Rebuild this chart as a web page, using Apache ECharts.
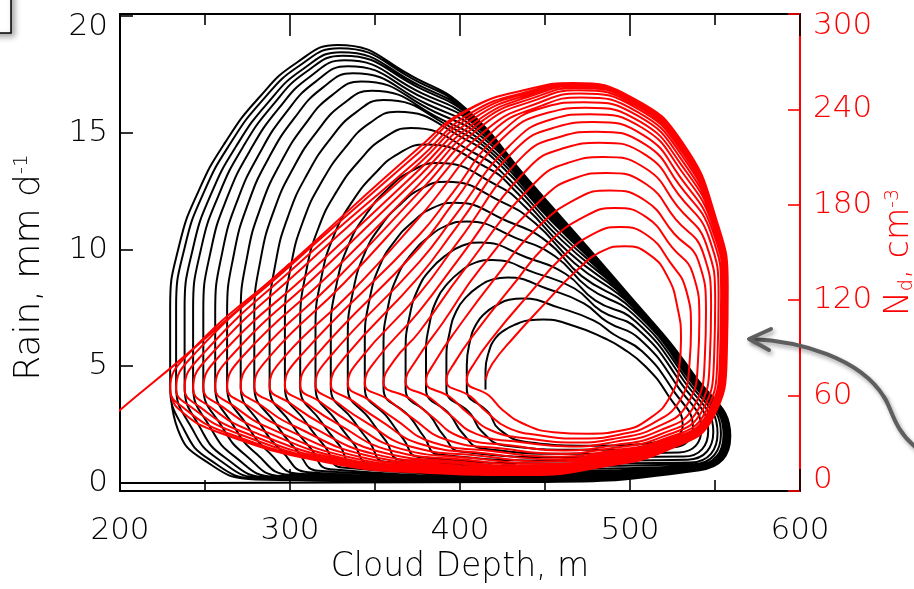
<!DOCTYPE html>
<html style="height: 100%">
<head>
    <meta charset="utf-8">
    <script type="text/javascript" src="https://cdn.jsdelivr.net/npm/echarts@6.0.0/dist/echarts.min.js"></script>
</head>
<body style="height: 100%; margin: 0; background: #fff">
<div id="container" style="height: 589px; width: 914px; position: absolute; top: 0; left: 0;"></div>
<script type="text/javascript">
    // axis ticks
    var depthTicks = [200, 300, 400, 500, 600];
    var rainTicks = [0, 5, 10, 15, 20];
    var ndTicks = [0, 60, 120, 180, 240, 300];

    // rain (mm/d) vs cloud depth (m): one loop per row, inner -> outer, x,y pairs
    var rainLoops = [
        [415,4.0, 415,4.8, 416.9,5.6, 420.8,6.2, 426.2,6.55, 433,6.8, 440.7,6.97, 449,7.0, 468,6.7, 485,6.2, 495,5.8, 509,5.0, 522,3.8, 531,2.5, 521,1.8, 478,1.6, 440,1.75, 423,2.3, 417,3.0],
        [404,4.01, 404,5.04, 405.8,6.05, 409.6,6.81, 414.9,7.28, 421.5,7.61, 428.9,7.85, 437,7.9, 458.2,7.51, 478.8,6.95, 490.8,6.35, 507.1,5.64, 525.2,3.99, 537,2.39, 525.3,1.53, 472.5,1.42, 426.1,1.61, 412.7,2.22, 406.2,2.96],
        [392,4.02, 392,5.27, 394,6.48, 398.1,7.4, 403.9,7.98, 411.1,8.42, 419.2,8.72, 428,8.8, 451.3,8.32, 472.6,7.7, 486.6,6.9, 505.5,6.18, 527.9,4.15, 542,2.3, 528.9,1.31, 467.8,1.25, 413.1,1.48, 401.4,2.14, 394.3,2.91],
        [380,4.04, 380,5.46, 382.1,6.83, 386.6,7.89, 392.9,8.56, 400.7,9.08, 409.4,9.45, 419,9.55, 444.1,9.0, 467.4,8.33, 483.1,7.36, 504.2,6.61, 530,4.28, 546,2.23, 531.7,1.13, 463.2,1.1, 400.2,1.35, 390.2,2.05, 382.5,2.87],
        [368,4.05, 368,5.65, 370.4,7.17, 375.5,8.34, 382.5,9.13, 391.3,9.73, 401.2,10.16, 412,10.3, 438.9,9.67, 462.2,8.95, 479.5,7.82, 503.2,6.93, 531.6,4.38, 549,2.18, 533.9,1.0, 458.6,0.96, 387.4,1.22, 378.9,1.97, 370.6,2.82],
        [355,4.06, 355,5.87, 357.7,7.56, 363.3,8.88, 371.2,9.78, 381,10.5, 392,11.02, 404,11.2, 433,10.49, 456.1,9.7, 475.4,8.37, 502.4,7.2, 533,4.46, 551.5,2.13, 535.6,0.88, 454.9,0.84, 375.7,1.11, 366.7,1.88, 357.8,2.77],
        [344,4.08, 344,6.06, 346.9,7.9, 353,9.34, 361.5,10.35, 372.1,11.18, 384,11.78, 397,12.0, 427.9,11.21, 450.6,10.37, 471.6,8.86, 501.8,7.41, 534.1,4.52, 553.5,2.1, 537.1,0.8, 451.2,0.72, 364.8,1.0, 356.4,1.8, 347,2.73],
        [334,4.09, 334,6.27, 337.2,8.25, 343.9,9.83, 353.1,10.98, 364.7,11.92, 377.8,12.63, 392,12.9, 425.1,12.02, 444.3,11.12, 467.4,9.41, 501.3,7.57, 534.9,4.57, 555,2.07, 538.1,0.73, 448.5,0.62, 355.8,0.91, 347,1.73, 337.1,2.69],
        [324,4.1, 324,6.44, 327.5,8.55, 334.7,10.24, 344.8,11.51, 357.4,12.58, 371.6,13.37, 387,13.7, 422,12.74, 438.8,11.79, 463.6,9.9, 501,7.68, 535.4,4.6, 556,2.05, 538.9,0.68, 445.7,0.52, 346.9,0.82, 337.7,1.66, 327.2,2.66],
        [315,4.11, 315,6.61, 318.6,8.85, 326.1,10.65, 336.5,12.04, 349.5,13.22, 364.1,14.12, 380,14.5, 416.9,13.46, 433.3,12.45, 459.9,10.39, 500.7,7.76, 535.8,4.63, 556.8,2.04, 539.4,0.65, 442.9,0.43, 338.4,0.73, 329.2,1.6, 318.4,2.62],
        [306,4.12, 306,6.77, 309.6,9.09, 317.1,10.99, 327.5,12.49, 340.5,13.78, 355.1,14.77, 371,15.2, 409.5,14.09, 428.5,13.03, 456.7,10.82, 500.5,7.83, 536.1,4.65, 557.4,2.03, 539.9,0.62, 440.7,0.35, 330.7,0.66, 320.8,1.54, 309.5,2.59],
        [297,4.13, 297,6.92, 300.6,9.32, 308.2,11.31, 318.8,12.92, 332,14.32, 346.8,15.41, 363,15.9, 403.2,14.72, 423.7,13.62, 453.4,11.25, 500.4,7.87, 536.4,4.66, 557.8,2.02, 540.1,0.6, 438.7,0.28, 323.5,0.59, 312.3,1.47, 300.6,2.55],
        [288,4.14, 288,7.02, 291.7,9.49, 299.4,11.53, 310.1,13.22, 323.5,14.72, 338.6,15.86, 355,16.4, 396.4,15.17, 420.3,14.03, 451.1,11.55, 500.3,7.9, 536.5,4.67, 558.1,2.02, 540.4,0.59, 437,0.22, 316.8,0.52, 303.9,1.41, 291.7,2.52],
        [279,4.15, 279,7.11, 282.8,9.61, 290.7,11.7, 301.8,13.47, 315.6,15.03, 331.1,16.23, 348,16.8, 390.3,15.53, 417.5,14.36, 449.2,11.8, 500.2,7.94, 536.7,4.68, 558.4,2.01, 540.6,0.58, 435.5,0.17, 310.6,0.46, 295.4,1.35, 282.8,2.49],
        [271,4.16, 271,7.19, 274.9,9.74, 283.1,11.88, 294.4,13.7, 308.6,15.34, 324.6,16.6, 342,17.2, 385.3,15.89, 414.8,14.7, 447.3,12.04, 500.1,7.96, 536.8,4.69, 558.6,2.01, 540.7,0.57, 434.2,0.13, 305,0.4, 287.9,1.29, 274.9,2.46],
        [263,4.16, 263,7.25, 267.1,9.84, 275.6,12.02, 287.4,13.91, 302.2,15.59, 318.9,16.91, 337,17.55, 381.1,16.21, 412.3,14.99, 445.7,12.26, 500.1,7.98, 536.9,4.69, 558.8,2.0, 540.9,0.56, 433.1,0.1, 299.7,0.35, 280.4,1.24, 267,2.43],
        [256,4.17, 256,7.32, 260.3,9.93, 269.3,12.15, 281.7,14.07, 297.3,15.83, 314.9,17.18, 334,17.85, 378.8,16.48, 410.2,15.25, 444.2,12.45, 500,7.99, 536.9,4.7, 558.9,2.0, 540.9,0.55, 432.2,0.08, 295,0.3, 273.9,1.19, 260.1,2.4],
        [249,4.18, 249,7.37, 253.6,10.01, 263.1,12.24, 276.4,14.23, 293,16.01, 311.7,17.4, 332,18.1, 377.4,16.7, 408.5,15.45, 443.1,12.6, 500,8.0, 537,4.7, 559,2.0, 541,0.55, 431.7,0.07, 291.2,0.26, 267.3,1.14, 253.2,2.37],
        [243,4.19, 243,7.42, 247.8,10.07, 258,12.32, 272,14.35, 289.6,16.16, 309.4,17.6, 331,18.3, 376.9,16.89, 407.2,15.62, 442.1,12.72, 500,8.0, 537,4.7, 559,2.0, 541,0.55, 431.1,0.06, 287.7,0.23, 261.7,1.09, 247.3,2.35],
        [238,4.19, 238,7.44, 243.1,10.11, 253.6,12.38, 268.4,14.43, 286.8,16.27, 307.5,17.72, 330,18.45, 376.3,17.02, 406.1,15.75, 441.4,12.81, 500,8.0, 537,4.7, 559,2.0, 541,0.55, 430.7,0.05, 284.8,0.2, 257,1.06, 242.4,2.33],
        [233,4.2, 233,7.47, 238.3,10.16, 249.3,12.45, 264.7,14.52, 283.9,16.4, 305.5,17.87, 329,18.62, 375.7,17.17, 405,15.88, 440.7,12.91, 500,8.0, 537,4.7, 559,2.0, 541,0.55, 430.3,0.04, 282,0.17, 252.3,1.02, 237.5,2.31],
        [229.5,4.2, 229.5,7.5, 234.9,10.2, 246.2,12.5, 262,14.6, 281.7,16.5, 303.9,18.0, 328,18.76, 375,17.3, 404,16.0, 440,13.0, 500,8.0, 537,4.7, 559,2.0, 541,0.55, 430,0.04, 280,0.15, 249,1.0, 234,2.3]
    ];

    // droplet number Nd (cm-3) vs cloud depth (m), same loops
    var ndLoops = [
        [415,70, 419,80, 432,97, 450,118, 468,138, 484,151, 497,154, 511,149, 522,135, 528,115, 530,95, 529,78, 524,60, 512,46, 495,38, 475,36, 455,37, 438,42, 425,51, 417,60],
        [404,69.6, 408.4,80.4, 421,99, 440,123, 460,147, 479,162, 494,166, 510.5,160.5, 523.5,143.9, 532.9,126.8, 535.9,102.1, 535,80.1, 529.4,57.1, 513.7,42.7, 493.5,35.4, 471.1,33, 448.5,34.8, 428,39.9, 415.2,50.1, 406.1,59.5],
        [392,69.3, 396.9,80.9, 410,101, 430,128, 452,156, 474,173, 491,178, 510,171.9, 524.8,153.2, 537,136.6, 540.8,108, 540,81.9, 533.8,54.7, 515,39.9, 492.2,33.1, 467.8,30.5, 442.4,32.7, 418.8,37.9, 404.4,49.2, 394.3,59],
        [380,68.9, 385.4,81.4, 399,103, 420,133, 444,164, 469,184, 488,189, 509.3,182.4, 526,161.8, 540.3,144.5, 544.7,112.7, 544,83.4, 537.4,52.8, 516.2,37.5, 491,30.9, 464.5,28, 436.3,30.7, 409.5,35.9, 393.7,48.3, 382.5,58.5],
        [368,68.5, 373.9,81.8, 390,106, 412,140, 448.5,184, 468.3,197, 486,200, 509.6,192.9, 526.9,170.8, 542.8,150.4, 547.7,116.2, 547,84.4, 540.1,51.3, 517.2,35.4, 489.7,28.7, 461.3,25.5, 430.3,28.6, 400.3,34, 382.9,47.3, 370.6,58],
        [355,68.1, 361.4,82.3, 376,100, 401,137, 444.2,194, 465.3,207, 484,210, 509.7,202.5, 527.8,179.1, 544.8,155.3, 550.1,119.2, 549.5,85.3, 542.3,50.1, 518.1,33.7, 488.7,26.9, 458.6,23.5, 424.8,26.7, 392,32.2, 371.3,46.3, 357.8,57.4],
        [344,67.7, 350.9,82.7, 376,113, 400,147, 440.2,203, 462.3,216, 482,219, 509.6,211.1, 528.5,186.6, 546.5,159.2, 552.1,121.5, 551.5,86, 544.1,49.1, 518.8,32.2, 487.7,25.2, 456,21.5, 419.7,25, 384.1,30.5, 361.5,45.4, 347,56.9],
        [334,67.4, 341.3,83.1, 376,124, 399,157, 436.4,210, 459.6,223, 480,226, 509.1,217.8, 529,192.5, 547.7,162.1, 553.6,123.3, 553,86.6, 545.4,48.4, 519.4,31.1, 487,23.9, 454.1,20, 415.5,23.6, 377.8,29.2, 352.5,44.7, 337.1,56.5],
        [324,67.1, 331.7,83.5, 376,135, 398,166, 432.6,214.8, 457,229, 478,232, 508.3,223.5, 529.4,197.6, 548.5,164.1, 554.6,124.5, 554,86.9, 546.3,47.9, 519.8,30.2, 486.3,22.5, 452.1,18.5, 411.3,22.2, 371.4,27.8, 343.6,43.9, 327.2,56.1],
        [315,66.8, 323,83.8, 376,144, 397,173, 429,217, 454.5,234, 476,237, 507.4,228.3, 529.8,201.9, 549.2,165.7, 555.3,125.4, 554.8,87.2, 547,47.6, 520.3,29.3, 485.5,21.2, 450.1,17, 407.4,20.8, 365.3,26.5, 335.5,43.2, 318.3,55.7],
        [306,66.5, 314.4,84.1, 376,153, 396,181, 425.3,222, 452.1,238, 474,241, 506.2,232.1, 530.1,205.3, 549.7,166.9, 555.9,126.1, 555.4,87.4, 547.6,47.3, 520.6,28.6, 484.9,20.1, 448.6,15.8, 403.8,19.6, 359.8,25.3, 327.5,42.5, 309.5,55.3],
        [297,66.2, 305.8,84.5, 376,161, 396,188, 422.2,223.5, 450.2,241.5, 472.5,244.5, 505.5,235.4, 530.3,208.4, 550,167.6, 556.3,126.6, 555.8,87.6, 547.9,47.1, 520.9,28.1, 484.4,19.2, 447.2,14.7, 400.4,18.4, 354.6,24.2, 319.4,41.8, 300.6,54.9],
        [288,65.9, 297.1,84.8, 336,125, 376,172, 419,226, 448.4,242.5, 471,247.5, 504.6,238.3, 530.5,211, 550.3,168.2, 556.6,126.9, 556.1,87.7, 548.2,46.9, 521.1,27.6, 483.9,18.4, 446,13.8, 397.2,17.4, 349.8,23.2, 311.4,41.1, 291.7,54.5],
        [279,65.6, 288.5,85.1, 332,131, 376,182, 416.4,228, 447.2,244.5, 470,250, 504.1,240.7, 530.6,213.2, 550.5,168.8, 556.9,127.3, 556.4,87.8, 548.5,46.8, 521.3,27.2, 483.5,17.6, 444.9,13, 394.3,16.4, 345.4,22.3, 303.3,40.4, 282.8,54.1],
        [271,65.3, 280.8,85.4, 328,134, 376,188, 414,230.5, 446,246.5, 469,252, 503.5,242.6, 530.7,214.9, 550.7,169.2, 557.1,127.5, 556.6,87.9, 548.7,46.7, 521.5,26.8, 483.1,17, 444,12.3, 391.7,15.5, 341.4,21.4, 296.1,39.7, 274.9,53.8],
        [263,65.1, 273.1,85.7, 324,137, 376,193, 412.1,232, 445.3,248, 468.5,253.5, 503.4,244, 530.8,216.2, 550.8,169.6, 557.3,127.8, 556.8,87.9, 548.8,46.6, 521.6,26.5, 482.8,16.5, 443.2,11.7, 389.2,14.6, 337.6,20.6, 289,39.1, 267,53.4],
        [256,64.9, 266.4,86, 319,139, 376,198, 410.3,233, 444.7,249.5, 468,254.5, 503.1,245, 530.9,217.1, 550.9,169.8, 557.4,127.9, 556.9,88, 548.9,46.6, 521.8,26.3, 482.6,16.1, 442.6,11.2, 387,13.9, 334.3,19.9, 282.7,38.6, 260.1,53.1],
        [249,64.6, 259.7,86.2, 314,140, 376,202, 408.5,234.5, 444.1,250.5, 467.5,255.2, 502.7,245.7, 530.9,217.7, 551,170, 557.5,128, 557,88, 549,46.5, 521.8,26.1, 482.5,15.8, 442.2,10.9, 385.2,13.3, 331.5,19.3, 276.5,38, 253.2,52.8],
        [243,64.4, 254,86.5, 308,141, 376,206, 407,236, 443.6,251.5, 467,255.7, 502.3,246.1, 531,218.2, 551,170, 557.5,128, 557,88, 549,46.5, 521.9,26, 482.3,15.5, 441.8,10.6, 383.6,12.7, 329,18.8, 271.1,37.6, 247.3,52.6],
        [238,64.3, 249.2,86.7, 304,142, 376,209, 406,237.5, 443.6,252.2, 467,256, 502.4,246.4, 531,218.5, 551,170, 557.5,128, 557,88, 549,46.5, 522,25.9, 482.2,15.3, 441.5,10.4, 382.2,12.3, 326.9,18.3, 266.6,37.2, 242.4,52.4],
        [233,64.1, 244.4,86.9, 301,142.5, 376,213, 404.6,239.4, 443,253.4, 466.5,256.4, 502,246.8, 531,218.8, 551,170, 557.5,128, 557,88, 549,46.5, 522,25.8, 482.1,15.1, 441.2,10.1, 380.9,11.8, 324.9,17.9, 262.1,36.8, 237.5,52.2],
        [229.5,64, 241,87, 300,143, 376,216, 404,239.6, 443,253.5, 466.5,256.6, 502,247, 531,219, 551,170, 557.5,128, 557,88, 549,46.5, 522,25.8, 482,15, 441,10, 380,11.5, 323.5,17.6, 259,36.5, 234,52]
    ];

    // second run coming in from the left edge
    var rainEntry = [[185, 0], [250, 0], [330, 0.02], [430, 0.04]];
    var ndEntry = [[185, 37], [200, 51], [241, 87.5], [300, 143.3]];

    function toPath(loops) {
        var path = [];
        for (var k = 0; k < loops.length; k++) {
            var loop = loops[k];
            for (var i = 0; i < loop.length; i += 2) {
                path.push([loop[i], loop[i + 1]]);
            }
        }
        var last = loops[loops.length - 1];
        path.push([last[0], last[1]]);
        return path;
    }

    var FONT = "'DejaVu Sans', sans-serif";
    var dom = document.getElementById("container");
    var myChart = echarts.init(dom, null, {renderer: 'canvas'});

    var option = {
        animation: false,
        backgroundColor: '#ffffff',
        grid: {left: 120, right: 114, top: 14, bottom: 98, outerBoundsMode: 'none', containLabel: false},
        xAxis: [
            {
                type: 'value', position: 'bottom', min: 200, max: 600, interval: 100,
                axisLine: {show: true, onZero: false, lineStyle: {color: '#000', width: 2}},
                axisTick: {show: true, inside: true, length: 22, lineStyle: {color: '#000', width: 1.6}},
                minorTick: {show: true, splitNumber: 2, length: 11, lineStyle: {color: '#000', width: 1.6}},
                splitLine: {show: false},
                axisLabel: {color: '#000', fontSize: 31, fontFamily: FONT, fontWeight: 200, margin: 24,
                    customValues: depthTicks},
                name: 'Cloud Depth, m', nameLocation: 'middle', nameGap: 56,
                nameTextStyle: {color: '#000', fontSize: 33, fontFamily: FONT, fontWeight: 200}
            },
            {
                type: 'value', position: 'top', min: 200, max: 600, interval: 100,
                axisLine: {show: true, onZero: false, lineStyle: {color: '#000', width: 2}},
                axisTick: {show: true, inside: true, length: 22, lineStyle: {color: '#000', width: 1.6}},
                minorTick: {show: true, splitNumber: 2, length: 11, lineStyle: {color: '#000', width: 1.6}},
                splitLine: {show: false},
                axisLabel: {show: false}
            }
        ],
        yAxis: [
            {
                type: 'value', position: 'left', min: -0.343, max: 20.086,
                axisLine: {show: true, onZero: false, lineStyle: {color: '#000', width: 2}},
                axisTick: {show: true, inside: true, length: 13, customValues: rainTicks,
                    lineStyle: {color: '#000', width: 1.6}},
                splitLine: {show: false},
                axisLabel: {
                    color: '#000', fontSize: 31, fontFamily: FONT, fontWeight: 200, margin: 12,
                    customValues: rainTicks,
                    formatter: function (v) { return v === 20 ? '{top|20}' : String(v); },
                    rich: {top: {color: '#000', fontSize: 31, fontFamily: FONT, fontWeight: 200, padding: [22, 0, 0, 0]}}
                },
                name: 'Rain, mm d{sup|-1}', nameLocation: 'middle', nameRotate: 90, nameGap: 72,
                nameTextStyle: {
                    color: '#000', fontSize: 36, fontFamily: FONT, fontWeight: 200, padding: [0, 30, 0, 0],
                    rich: {sup: {color: '#000', fontSize: 20, fontFamily: FONT, verticalAlign: 'top', lineHeight: 20}}
                }
            },
            {
                type: 'value', position: 'right', min: 0, max: 300, interval: 60,
                axisLine: {show: true, onZero: false, lineStyle: {color: '#ff0000', width: 2}},
                axisTick: {show: true, inside: true, length: 12, lineStyle: {color: '#ff0000', width: 1.6}},
                splitLine: {show: false},
                axisLabel: {
                    color: '#ff0000', fontSize: 31, fontFamily: FONT, fontWeight: 200, margin: 13,
                    customValues: ndTicks,
                    formatter: function (v) {
                        if (v === 300) return '{top|300}';
                        if (v === 0) return '{bot|0}';
                        return String(v);
                    },
                    rich: {
                        top: {color: '#ff0000', fontSize: 31, fontFamily: FONT, fontWeight: 200, padding: [24, 0, 0, 0]},
                        bot: {color: '#ff0000', fontSize: 31, fontFamily: FONT, fontWeight: 200, padding: [0, 0, 22, 0]}
                    }
                },
                name: 'N{sub|d}, cm{sup|-3}', nameLocation: 'middle', nameRotate: 90, nameGap: 80,
                nameTextStyle: {
                    color: '#ff0000', fontSize: 33, fontFamily: FONT, fontWeight: 200,
                    rich: {
                        sup: {color: '#ff0000', fontSize: 19, fontFamily: FONT, verticalAlign: 'top', lineHeight: 20},
                        sub: {color: '#ff0000', fontSize: 19, fontFamily: FONT, verticalAlign: 'bottom', lineHeight: 20}
                    }
                }
            }
        ],
        graphic: [
            {
                type: 'rect', z: 100,
                shape: {x: -20, y: -20, width: 31, height: 53},
                style: {fill: '#fff', stroke: '#000', lineWidth: 1.5,
                    shadowBlur: 6, shadowColor: 'rgba(0,0,0,0.35)', shadowOffsetX: 3, shadowOffsetY: 3}
            },
            {
                type: 'bezierCurve', z: 100,
                shape: {x1: 751, y1: 339, cpx1: 800, cpy1: 341, cpx2: 860, cpy2: 358, x2: 884, y2: 397},
                style: {stroke: '#5e5e5e', lineWidth: 4, fill: null, lineCap: 'round',
                    shadowBlur: 4, shadowColor: 'rgba(0,0,0,0.35)', shadowOffsetX: 2, shadowOffsetY: 3}
            },
            {
                type: 'bezierCurve', z: 100,
                shape: {x1: 884, y1: 397, cpx1: 892, cpy1: 408, cpx2: 893, cpy2: 430, x2: 918, y2: 449},
                style: {stroke: '#5e5e5e', lineWidth: 4, fill: null, lineCap: 'round',
                    shadowBlur: 4, shadowColor: 'rgba(0,0,0,0.35)', shadowOffsetX: 2, shadowOffsetY: 3}
            },
            {
                type: 'polyline', z: 100,
                shape: {points: [[771, 329], [749, 339], [769, 350]]},
                style: {stroke: '#5e5e5e', lineWidth: 4, fill: null, lineCap: 'round', lineJoin: 'round',
                    shadowBlur: 4, shadowColor: 'rgba(0,0,0,0.35)', shadowOffsetX: 2, shadowOffsetY: 3}
            }
        ],
        series: [
            {
                name: 'Rain', type: 'line', xAxisIndex: 0, yAxisIndex: 0,
                data: toPath(rainLoops), smooth: 0.5, symbol: 'none', clip: true,
                lineStyle: {color: '#000', width: 2}, z: 2
            },
            {
                name: 'Rain entry', type: 'line', xAxisIndex: 0, yAxisIndex: 0,
                data: rainEntry, smooth: 0.5, symbol: 'none', clip: true,
                lineStyle: {color: '#000', width: 2}, z: 2
            },
            {
                name: 'Nd', type: 'line', xAxisIndex: 0, yAxisIndex: 1,
                data: toPath(ndLoops), smooth: 0.5, symbol: 'none', clip: true,
                lineStyle: {color: '#ff0000', width: 2}, z: 3
            },
            {
                name: 'Nd entry', type: 'line', xAxisIndex: 0, yAxisIndex: 1,
                data: ndEntry, smooth: 0.5, symbol: 'none', clip: true,
                lineStyle: {color: '#ff0000', width: 2}, z: 3
            }
        ]
    };
    myChart.setOption(option, true);
</script>
</body>
</html>
